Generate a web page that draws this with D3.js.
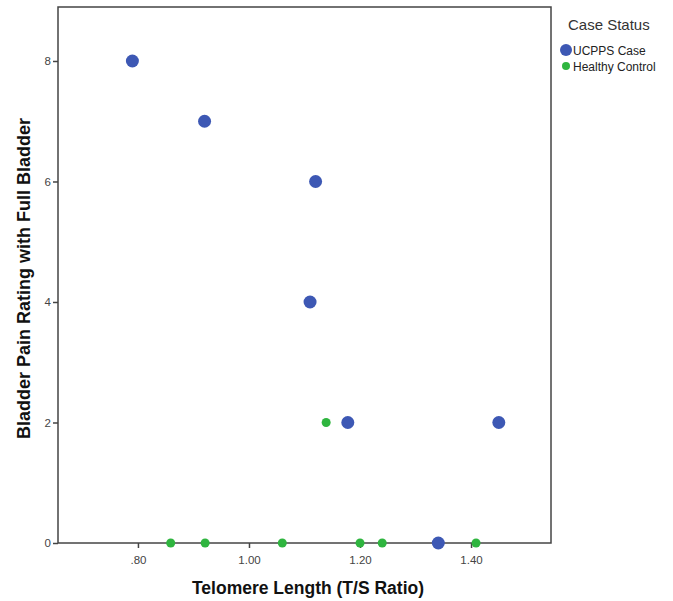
<!DOCTYPE html>
<html><head><meta charset="utf-8">
<script src="https://cdn.jsdelivr.net/npm/d3@7"></script>
<style>body{margin:0;background:#fff}svg{display:block}</style>
</head><body>
<svg id="c" width="673" height="601"></svg>
<script>
const caseX = [0.79, 0.92, 1.12, 1.11, 1.178, 1.45, 1.341];
const caseY = [8, 7, 6, 4, 2, 2, 0];
const ctrlX = [1.139, 0.859, 0.921, 1.06, 1.20, 1.24, 1.409];
const ctrlY = [2, 0, 0, 0, 0, 0, 0];
const xTicks = [0.8, 1.0, 1.2, 1.4];
const yTicks = [0, 2, 4, 6, 8];
const seriesNames = ["UCPPS Case", "Healthy Control"];
const colors = ["#3D58B4", "#2FB53F"];

const svg = d3.select("#c");
const L = 58, R = 551, T = 7, B = 543;
const x = d3.scaleLinear().domain([0.656, 1.544]).range([L, R]);
const y = d3.scaleLinear().domain([0, 8.896]).range([B, T]);

svg.append("rect").attr("x", L).attr("y", T).attr("width", R - L).attr("height", B - T)
  .attr("fill", "none").attr("stroke", "#444").attr("stroke-width", 1.5);

const xa = svg.append("g").attr("transform", `translate(0,${B})`)
  .call(d3.axisBottom(x).tickValues(xTicks).tickSize(5).tickSizeOuter(0)
    .tickFormat(d => d3.format(".2f")(d).replace(/^0/, "")));
const ya = svg.append("g").attr("transform", `translate(${L},0)`)
  .call(d3.axisLeft(y).tickValues(yTicks).tickSize(5).tickSizeOuter(0).tickFormat(d3.format("d")));
[xa, ya].forEach(g => {
  g.select(".domain").remove();
  g.selectAll("line").attr("stroke", "#444").attr("stroke-width", 1.5);
  g.selectAll("text").attr("fill", "#444").style("font-family", "Arial, 'Liberation Sans', sans-serif").style("font-size", "11.5px");
});
xa.selectAll("text").attr("dy", "1.1em");
ya.selectAll("text").attr("x", -7);

const caseData = caseX.map((v, i) => ({x: v, y: caseY[i]}));
const ctrlData = ctrlX.map((v, i) => ({x: v, y: ctrlY[i]}));

svg.append("g").selectAll("circle").data(ctrlData).join("circle")
  .attr("cx", d => x(d.x)).attr("cy", d => y(d.y)).attr("r", 4.5).attr("fill", colors[1]);
svg.append("g").selectAll("circle").data(caseData).join("circle")
  .attr("cx", d => x(d.x)).attr("cy", d => y(d.y)).attr("r", 6.5).attr("fill", colors[0]);

const font = "Arial, 'Liberation Sans', sans-serif";
svg.append("text").attr("x", 308).attr("y", 594).attr("text-anchor", "middle")
  .style("font-family", font).style("font-size", "17.5px").style("font-weight", "bold").attr("fill", "#111")
  .text("Telomere Length (T/S Ratio)");
svg.append("text").attr("transform", `translate(30,278.5) rotate(-90)`).attr("text-anchor", "middle")
  .style("font-family", font).style("font-size", "18px").style("font-weight", "bold").attr("fill", "#111")
  .text("Bladder Pain Rating with Full Bladder");

const lg = svg.append("g");
lg.append("text").attr("x", 568).attr("y", 30).style("font-family", font).style("font-size", "15px").attr("fill", "#333").text("Case Status");
const radii = [6, 4];
const rowY = [50, 66];
seriesNames.forEach((n, i) => {
  const cy = rowY[i];
  lg.append("circle").attr("cx", 566).attr("cy", cy).attr("r", radii[i]).attr("fill", colors[i]);
  lg.append("text").attr("x", 573).attr("y", cy + 4.5).style("font-family", font).style("font-size", "12px").attr("fill", "#222").text(n);
});
</script>
</body></html>
